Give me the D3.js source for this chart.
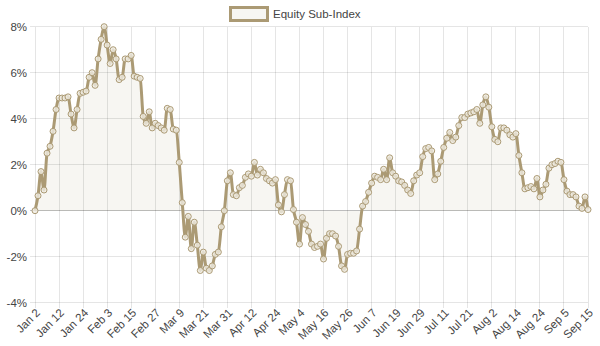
<!DOCTYPE html>
<html>
<head>
<meta charset="utf-8">
<script src="https://cdn.jsdelivr.net/npm/d3@7/dist/d3.min.js"></script>
<style>
  html, body { margin: 0; padding: 0; background: #fff; }
  svg { display: block; font-family: "Liberation Sans", Arial, Helvetica, sans-serif; }
</style>
</head>
<body>
<svg id="chart" width="600" height="346"></svg>
<script>
// Trading days (weekdays), Jan 2 – Sep 15, 2017
const dates = d3.timeDay
  .range(new Date(2017, 0, 2), new Date(2017, 8, 16))
  .filter(d => d.getDay() !== 0 && d.getDay() !== 6);

// Cumulative return of the equity sub-index, in percent
const values = [
  0.0, 0.65, 1.7, 0.9, 2.5, 2.8, 3.45, 4.4,
  4.9, 4.9, 4.9, 4.95, 4.2, 3.6, 4.4, 5.1,
  5.15, 5.2, 5.8, 6.0, 5.45, 6.6, 7.45, 8.0,
  7.2, 6.4, 7.0, 6.6, 5.7, 5.8, 6.6, 6.6,
  6.75, 5.85, 5.8, 5.75, 4.1, 3.8, 4.3, 3.6,
  3.8, 3.7, 3.6, 3.5, 4.45, 4.4, 3.55, 3.5,
  2.1, 0.35, -1.15, -0.25, -1.65, -0.5, -1.5, -2.6,
  -1.8, -2.5, -2.6, -2.4, -1.9, -1.8, -0.7, 0.0,
  1.3, 1.65, 0.7, 0.65, 1.0, 1.1, 1.45, 1.6,
  1.5, 2.1, 1.55, 1.8, 1.65, 1.4, 1.3, 1.2,
  1.35, 0.25, -0.05, 0.7, 1.35, 1.3, 0.05, -0.5,
  -1.45, -0.3, -0.6, -0.9, -1.45, -1.6, -1.55, -1.45,
  -2.1, -1.2, -1.0, -1.0, -1.1, -1.55, -2.4, -2.55,
  -1.9, -1.85, -1.85, -1.75, -0.8, 0.2, 0.4, 0.8,
  1.2, 1.5, 1.45, 1.35, 1.8, 1.35, 2.3, 1.65,
  1.5, 1.3, 1.25, 1.1, 0.9, 0.75, 1.3, 1.55,
  1.65, 2.35, 2.7, 2.75, 2.6, 1.35, 1.6, 2.15,
  2.75, 3.15, 3.4, 3.05, 3.2, 3.7, 4.05, 4.05,
  4.2, 4.25, 4.3, 4.4, 3.8, 4.6, 4.95, 4.5,
  3.65, 3.1, 3.0, 3.6, 3.6, 3.5, 3.3, 3.2,
  3.35, 2.4, 1.65, 0.95, 1.0, 1.05, 0.95, 1.4,
  0.6, 0.9, 1.15, 1.85, 2.0, 2.05, 2.15, 2.1,
  1.35, 0.85, 0.7, 0.7, 0.6, 0.2, 0.1, 0.6,
  0.05
];

const yTicks = [-4, -2, 0, 2, 4, 6, 8];
const labelStep = 8;
const seriesName = "Equity Sub-Index";

const fmtDate = d3.timeFormat("%b %-d");
const categories = dates.map(fmtDate);
const data = categories.map((c, i) => ({ cat: c, v: values[i] }));

const color = "#ab9a74";
const textColor = "#444";

const svg = d3.select("#chart");
const margin = { left: 35, right: 12, top: 26.7, bottom: 43.3 };
const W = 600, H = 346;

const x = d3.scalePoint()
  .domain(categories)
  .range([margin.left, W - margin.right]);

const y = d3.scaleLinear()
  .domain([-4, 8])
  .range([H - margin.bottom, margin.top]);

const xTickCats = categories.filter((c, i) => i % labelStep === 0);

// Area under the line, filled to the zero baseline
svg.append("path")
  .datum(data)
  .attr("fill", "rgba(171,154,116,0.09)")
  .attr("d", d3.area()
    .x(d => x(d.cat))
    .y0(y(0))
    .y1(d => y(d.v))
    .curve(d3.curveMonotoneX));

// Grid
const grid = svg.append("g");
grid.selectAll("line.v")
  .data(xTickCats)
  .join("line")
  .attr("x1", d => x(d)).attr("x2", d => x(d))
  .attr("y1", margin.top).attr("y2", H - margin.bottom + 5)
  .attr("stroke", "rgba(0,0,0,0.1)")
  .attr("shape-rendering", "crispEdges");
grid.selectAll("line.h")
  .data(yTicks)
  .join("line")
  .attr("x1", margin.left - 5).attr("x2", W - margin.right)
  .attr("y1", d => y(d)).attr("y2", d => y(d))
  .attr("stroke", d => d === 0 ? "rgba(0,0,0,0.25)" : "rgba(0,0,0,0.1)")
  .attr("shape-rendering", "crispEdges");

// Y axis labels
svg.append("g")
  .selectAll("text")
  .data(yTicks)
  .join("text")
  .attr("x", margin.left - 8)
  .attr("y", d => y(d))
  .attr("dy", "0.35em")
  .attr("text-anchor", "end")
  .attr("font-size", 11.5)
  .attr("fill", textColor)
  .text(d => d + "%");

// X axis labels, rotated
svg.append("g")
  .selectAll("text")
  .data(xTickCats)
  .join("text")
  .attr("transform", d => `translate(${x(d) + 3},${H - margin.bottom + 8}) rotate(-45)`)
  .attr("dy", "0.35em")
  .attr("text-anchor", "end")
  .attr("font-size", 11.5)
  .attr("fill", textColor)
  .text(d => d);

// Line
svg.append("path")
  .datum(data)
  .attr("fill", "none")
  .attr("stroke", color)
  .attr("stroke-width", 3)
  .attr("stroke-linejoin", "round")
  .attr("d", d3.line()
    .x(d => x(d.cat))
    .y(d => y(d.v))
    .curve(d3.curveMonotoneX));

// Points
svg.append("g")
  .selectAll("circle")
  .data(data)
  .join("circle")
  .attr("cx", d => x(d.cat))
  .attr("cy", d => y(d.v))
  .attr("r", 3)
  .attr("fill", "rgba(240,236,226,0.8)")
  .attr("stroke", color)
  .attr("stroke-width", 1);

// Legend
const legend = svg.append("g");
legend.append("rect")
  .attr("x", 230.5).attr("y", 7.5)
  .attr("width", 37).attr("height", 13)
  .attr("fill", "rgba(171,154,116,0.09)")
  .attr("stroke", color)
  .attr("stroke-width", 3);
legend.append("text")
  .attr("x", 273).attr("y", 14)
  .attr("dy", "0.35em")
  .attr("font-size", 11.5)
  .attr("fill", textColor)
  .text(seriesName);
</script>
</body>
</html>
